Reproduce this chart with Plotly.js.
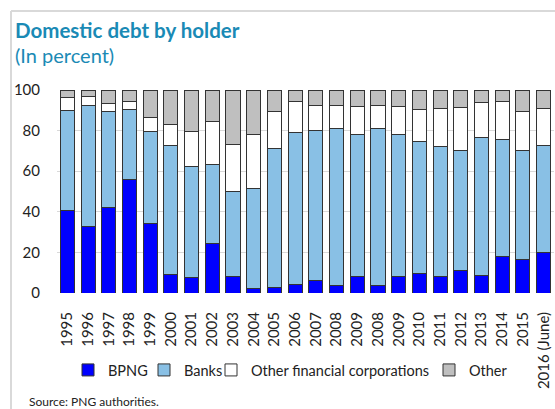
<!DOCTYPE html>
<html><head><meta charset="utf-8">
<script src="https://cdn.plot.ly/plotly-3.0.1.min.js"></script>
<style>html,body{margin:0;padding:0;background:#fff}#chart{width:555px;height:409px}</style>
</head><body><div id="chart"></div>
<script>
const categories = ["1995","1996","1997","1998","1999","2000","2001","2002","2003","2004","2005","2006","2007","2008","2009","2008","2009","2010","2011","2012","2013","2014","2015","2016 (June)"];
const bpng  = [40.7,32.8,42.0,56.1,34.4,9.3,7.4,24.6,8.2,2.0,2.5,4.3,6.1,3.9,7.9,3.9,7.9,9.5,7.9,11.3,8.5,17.9,16.4,19.8];
const banks = [49.0,59.8,47.3,34.4,45.4,63.2,54.9,38.8,41.6,49.6,68.5,74.7,73.9,77.2,70.3,77.2,70.3,65.1,64.2,59.0,68.2,57.8,53.9,52.7];
const ofc   = [6.7,4.4,4.1,3.8,6.6,10.6,17.2,21.0,23.6,26.6,18.3,15.3,12.6,11.5,13.6,11.5,13.6,15.9,18.6,21.0,17.2,18.7,19.2,18.5];
const other = [3.6,3.0,6.6,5.7,13.6,16.9,20.5,15.6,26.6,21.8,10.7,5.7,7.4,7.4,8.2,7.4,8.2,9.5,9.3,8.7,6.1,5.6,10.5,9.0];
const seriesNames = ["BPNG","Banks","Other financial corporations","Other"];
const yTicks = [0,20,40,60,80,100];

// plot area in pixels: left 57, right 554, top 90, bottom 293
const PL = 57, PW = 497, PT = 90, PH = 203;
const px = p => (p - PL) / PW;
const py = p => (PT + PH - p) / PH;

const xs = categories.map((c,i)=>i);
const colors = ["#0000ff","#89c0e5","#ffffff","#bfbfbf"];
const legendIds = ["legend","legend2","legend3","legend4"];
const legendTextX = [106,182,249,467];
const data = [bpng,banks,ofc,other].map((v,k)=>({
  type:"bar", x:xs, y:v, name:seriesNames[k], legend:legendIds[k],
  marker:{color:colors[k], line:{color:"#333333", width:1}},
  hoverinfo:"y+name"
}));
const font = "Lato, 'Open Sans', sans-serif";
const layout = {
  width:555, height:409, barmode:"stack", bargap:0.32,
  paper_bgcolor:"#fff", plot_bgcolor:"#fff",
  margin:{l:PL, r:555-PL-PW, t:PT, b:409-PT-PH},
  font:{family:font, size:15, color:"#222"},
  xaxis:{range:[-0.5,23.5], tickmode:"array", tickvals:xs, ticktext:categories,
    tickangle:-90, showgrid:false, zeroline:false, showline:false, ticks:"",
    ticklabelstandoff:15, tickfont:{size:15, color:"#222"}, fixedrange:true},
  yaxis:{range:[0,100], tickmode:"array", tickvals:yTicks, showgrid:true, gridcolor:"#d9d9d9",
    zeroline:false, showline:false, ticks:"", ticklabelstandoff:16,
    tickfont:{size:15,color:"#222"}, fixedrange:true},
  showlegend:true,
  annotations:[
    {xref:"paper", yref:"paper", text:"<b>Domestic debt by holder</b>", x:px(13), y:py(30), xanchor:"left", yanchor:"middle",
      showarrow:false, font:{size:20.5, color:"#1a8ab5", family:font}},
    {xref:"paper", yref:"paper", text:"(In percent)", x:px(13), y:py(55.5), xanchor:"left", yanchor:"middle",
      showarrow:false, font:{size:20, color:"#1a8ab5", family:font}},
    {xref:"paper", yref:"paper", text:"Source: PNG authorities.", x:px(27), y:py(401.5), xanchor:"left", yanchor:"middle",
      showarrow:false, font:{size:12, color:"#222", family:font}}
  ],
  shapes:[
    {type:"line", xref:"paper", yref:"paper", x0:px(11), x1:px(556), y0:py(11), y1:py(11), line:{color:"#d9d9d9", width:2}},
    {type:"line", xref:"paper", yref:"paper", x0:px(11), x1:px(11), y0:py(11), y1:py(410), line:{color:"#d9d9d9", width:2}}
  ]
};
legendIds.forEach((id,k)=>{
  layout[id] = {orientation:"h", x:px(legendTextX[k]-38), xanchor:"left", y:py(370), yanchor:"middle",
    font:{size:14.5,color:"#222",family:font}, itemwidth:30, bgcolor:"rgba(0,0,0,0)", borderwidth:0};
});
Plotly.newPlot("chart", data, layout, {displayModeBar:false, staticPlot:true});
</script></body></html>
